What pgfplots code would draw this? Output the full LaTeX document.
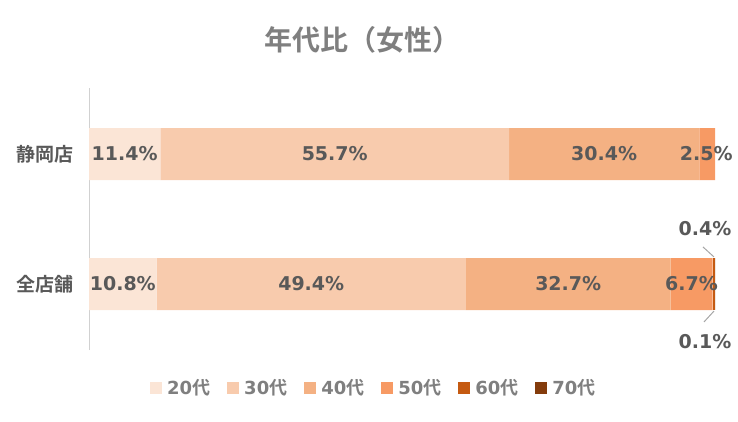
\documentclass[border=0pt]{standalone}
\usepackage{pgfplots}
\pgfplotsset{compat=1.18}
\usepackage{fontspec}
\setmainfont{DejaVu Sans}
\newfontfamily\cjk{Noto Sans CJK JP}[BoldFont={Noto Sans CJK JP Bold}]
\definecolor{c20}{HTML}{FBE5D6}
\definecolor{c30}{HTML}{F8CBAD}
\definecolor{c40}{HTML}{F4B183}
\definecolor{c50}{HTML}{F79A64}
\definecolor{c60}{HTML}{C55A11}
\definecolor{c70}{HTML}{843C0C}
\definecolor{txt}{HTML}{595959}
\definecolor{ttl}{HTML}{7F7F7F}
\begin{document}
\begin{tikzpicture}[x=1pt,y=1pt]
\useasboundingbox (0,0) rectangle (738,421);
\begin{axis}[
  at={(89pt,71pt)}, anchor=south west,
  scale only axis, width=626pt, height=262pt,
  xbar stacked, bar width=52pt,
  xmin=0, xmax=100, ymin=-0.5077, ymax=1.5077,
  hide x axis,
  axis y line=left,
  y axis line style={-, draw=black!18, line width=1pt},
  ytick={0,1}, yticklabels={全店舗,静岡店},
  ytick style={draw=none},
  yticklabel style={font=\cjk\bfseries\fontsize{19}{22}\selectfont, text=txt, xshift=-10pt},
  legend columns=6,
  legend style={at={(0.455,-0.145)}, anchor=center, draw=none, fill=none,
    font=\bfseries\fontsize{18}{22}\selectfont, text=ttl,
    /tikz/every odd column/.append style={column sep=3pt},
    /tikz/every even column/.append style={column sep=15pt}},
  legend image code/.code={\fill[#1] (0pt,-6pt) rectangle (12pt,6pt);},
]
\addplot[fill=c20, draw=none] coordinates {(10.8,0) (11.4,1)};
\addplot[fill=c30, draw=none] coordinates {(49.4,0) (55.7,1)};
\addplot[fill=c40, draw=none] coordinates {(32.7,0) (30.4,1)};
\addplot[fill=c50, draw=none] coordinates {(6.7,0) (2.5,1)};
\addplot[fill=c60, draw=none] coordinates {(0.4,0) (0,1)};
\addplot[fill=c70, draw=none] coordinates {(0.1,0) (0,1)};
\legend{20{\cjk 代},30{\cjk 代},40{\cjk 代},50{\cjk 代},60{\cjk 代},70{\cjk 代}}
\end{axis}
\begin{axis}[
  at={(89pt,71pt)}, anchor=south west,
  scale only axis, width=626pt, height=262pt,
  xmin=0, xmax=100, ymin=-0.5077, ymax=1.5077,
  hide axis, clip=false,
]
\addplot[only marks, mark=none, point meta=explicit symbolic,
  nodes near coords={\pgfplotspointmeta\%},
  nodes near coords style={anchor=center, font=\bfseries\fontsize{19}{22}\selectfont, text=txt}]
  coordinates {
  (5.7,1) [11.4] (39.25,1) [55.7] (82.3,1) [30.4] (98.6,1) [2.5]
  (5.4,0) [10.8] (35.5,0) [49.4] (76.55,0) [32.7] (96.25,0) [6.7]
  (98.4,0.423) [0.4] (98.4,-0.446) [0.1]
  };
\draw[black!35, line width=1pt] (axis cs:98.08,0.285) -- (axis cs:99.84,0.208);
\draw[black!35, line width=1pt] (axis cs:99.84,-0.208) -- (axis cs:98.24,-0.292);
\end{axis}
\node[font=\cjk\bfseries\fontsize{28}{32}\selectfont, text=ttl] at (362,381) {年代比（女性）};
\end{tikzpicture}
\end{document}
